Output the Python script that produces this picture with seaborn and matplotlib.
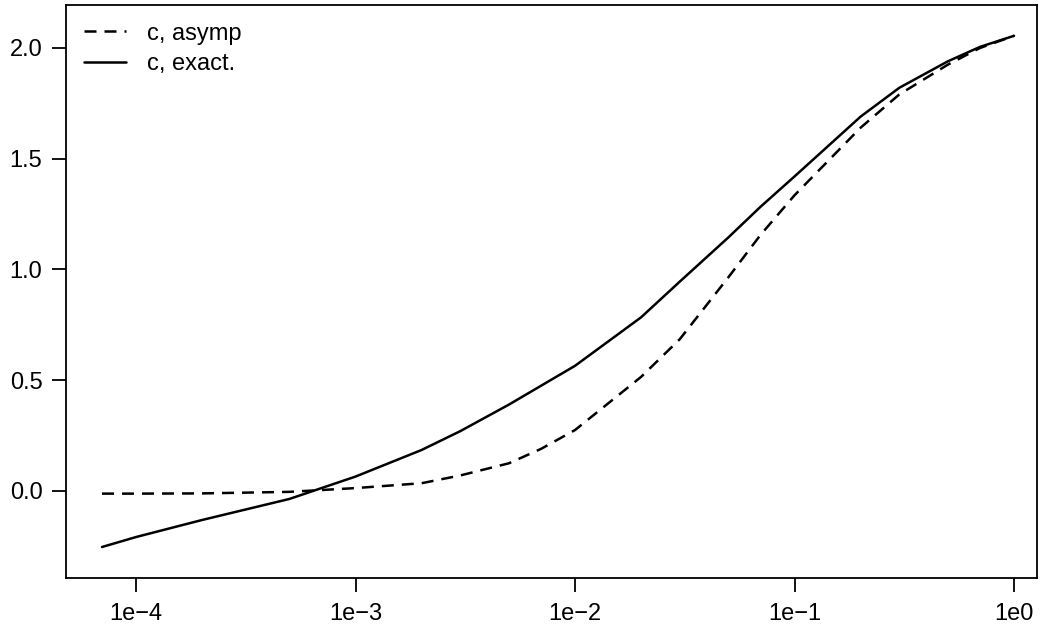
import numpy as np
import pandas as pd
import matplotlib
matplotlib.use("Agg")
import matplotlib.pyplot as plt
import seaborn as sns

# data
x_vals = [7e-5, 1e-4, 2e-4, 5e-4, 1e-3, 2e-3, 3e-3, 5e-3, 7e-3, 1e-2, 2e-2, 3e-2,
          5e-2, 7e-2, 1e-1, 2e-1, 3e-1, 5e-1, 7e-1, 1.0]
c_exact = [-0.253, -0.208, -0.131, -0.036, 0.065, 0.185, 0.27, 0.39, 0.475, 0.565,
           0.784, 0.945, 1.145, 1.283, 1.42, 1.69, 1.82, 1.94, 2.005, 2.055]
c_asymp = [-0.012, -0.012, -0.011, -0.004, 0.013, 0.035, 0.07, 0.125, 0.19, 0.275,
           0.515, 0.685, 0.965, 1.156, 1.335, 1.64, 1.79, 1.925, 2.0, 2.055]
series_names = ["c, asymp", "c, exact."]
x_ticks = [1e-4, 1e-3, 1e-2, 1e-1, 1.0]
x_tick_labels = ["1e\u22124", "1e\u22123", "1e\u22122", "1e\u22121", "1e0"]
y_ticks = [0.0, 0.5, 1.0, 1.5, 2.0]
y_tick_labels = ["0.0", "0.5", "1.0", "1.5", "2.0"]

df = pd.DataFrame({
    "x": x_vals * 2,
    "c": c_asymp + c_exact,
    "series": [series_names[0]] * len(x_vals) + [series_names[1]] * len(x_vals),
})

sns.set_theme(style="white")
plt.rcParams["font.family"] = ["Liberation Sans", "DejaVu Sans"]
plt.rcParams["text.color"] = "black"

fig = plt.figure(figsize=(10.41, 6.28), dpi=100)
ax = fig.add_axes([0.0634, 0.0796, 0.9328, 0.9124])

sns.lineplot(data=df, x="x", y="c", style="series", style_order=series_names,
             dashes={series_names[0]: (4.8, 3.2), series_names[1]: ""},
             color="black", linewidth=1.8, ax=ax, sort=False)

ax.set_xscale("log")
ax.set_xlim(10 ** -4.319, 10 ** 0.105)
ax.set_ylim(-0.393, 2.194)
ax.set_xticks(x_ticks)
ax.set_xticklabels(x_tick_labels)
ax.set_yticks(y_ticks)
ax.set_yticklabels(y_tick_labels)
ax.minorticks_off()
ax.set_xlabel("")
ax.set_ylabel("")

for s in ax.spines.values():
    s.set_color("black")
    s.set_linewidth(1.3)
ax.tick_params(axis="both", which="major", direction="out", length=10, width=1.3,
               color="black", labelsize=17, labelcolor="black", pad=7,
               bottom=True, left=True)
ax.tick_params(axis="x", pad=8)

leg = ax.legend(loc="upper left", frameon=False, fontsize=17, handlelength=1.8,
                handletextpad=0.9, borderaxespad=0.45, borderpad=0.3,
                labelspacing=0.36, bbox_to_anchor=(0.0, 1.0))
for line in leg.get_lines():
    line.set_linewidth(1.8)
    line.set_color("black")
for t in leg.get_texts():
    t.set_color("black")

fig.savefig("out.png", dpi=100, facecolor="white")
